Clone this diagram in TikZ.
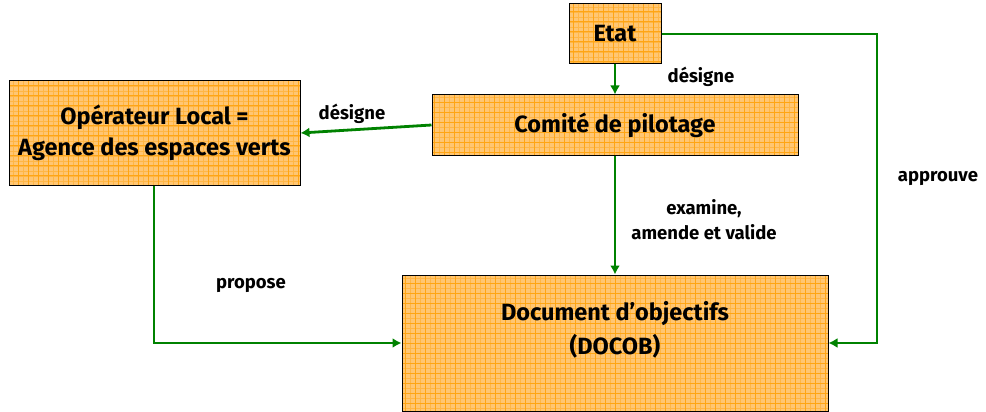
\documentclass[tikz,border=0pt]{standalone}
\usepackage{fontspec}
\setmainfont{Fira Sans}
\usetikzlibrary{arrows.meta}
\definecolor{boxfill}{RGB}{255,198,115}
\definecolor{gridc}{RGB}{255,165,20}
\definecolor{gridl}{RGB}{255,182,70}
\definecolor{arrgreen}{RGB}{0,130,0}
\tikzset{
  x=1pt,y=-1pt,
  box/.style={draw=black, line width=1pt, fill=boxfill, inner sep=0pt, align=center,
    font=\fontsize{23.5}{31}\selectfont\bfseries,
    path picture={
      \draw[gridl, line width=0.4pt] (path picture bounding box.south west) grid[step=5pt] (path picture bounding box.north east);
      \draw[gridc, line width=0.9pt] (path picture bounding box.south west) grid[step=10pt] (path picture bounding box.north east);}},
  boxtext/.style={align=center, inner sep=0pt, font=\fontsize{23.5}{34}\selectfont\bfseries},
  conn/.style={draw=arrgreen, line width=2.8pt, -{Latex[length=9pt,width=10pt]}},
  lbl/.style={font=\fontsize{18.5}{25}\selectfont\bfseries, align=center}
}
\begin{document}
\begin{tikzpicture}
\useasboundingbox (0,0) rectangle (986,412);
\node[box, minimum width=92pt, minimum height=60pt] (etat) at (615,34) {Etat};
\node[box, minimum width=291pt, minimum height=104pt] (op) at (154.5,133) {Opérateur Local =\\Agence des espaces verts};
\node[box, minimum width=366pt, minimum height=60pt] (com) at (615,125) {Comité de pilotage};
\node[box, minimum width=426pt, minimum height=136pt] (doc) at (615,343) {};
\node[boxtext] (doct) at (615,330) {Document d’objectifs\\(DOCOB)};
\coordinate (c1) at (877,34);
\coordinate (c2) at (877,343);
\coordinate (c3) at (154,343);
\draw[conn] (etat.south) -- (com.north);
\draw[conn] (com.west) -- (op.east);
\draw[conn] (com.south) -- (doc.north);
\draw[conn] (op.south -| c3) -- (c3) -- (doc.west);
\draw[conn] (etat.east) -- (c1) -- (c2) -- (doc.east);
\node[lbl] (l1) at (701,77) {désigne};
\node[lbl] (l2) at (352,114) {désigne};
\node[lbl] (l3) at (704,220) {examine,\\amende et valide};
\node[lbl] (l4) at (251,285) {propose};
\node[lbl] (l5) at (938,178) {approuve};
\end{tikzpicture}
\end{document}
